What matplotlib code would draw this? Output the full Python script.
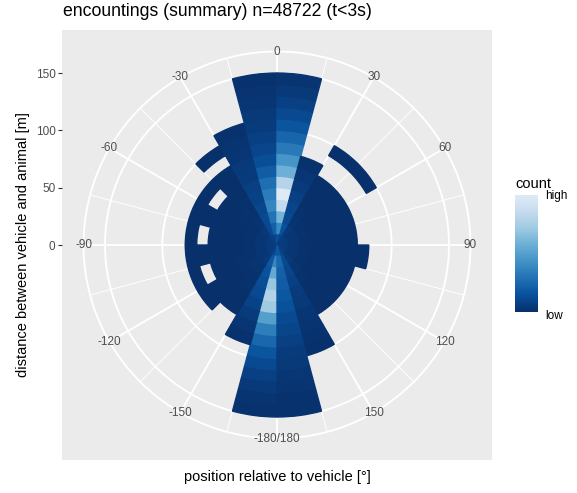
import numpy as np
import matplotlib
matplotlib.use("Agg")
import matplotlib.pyplot as plt
from matplotlib.colors import LinearSegmentedColormap, Normalize

plt.rcParams['font.family'] = ['Liberation Sans', 'DejaVu Sans']

# ---- data -------------------------------------------------------------
# angular bins (degrees, 0 = straight ahead, clockwise positive)
theta_edges = np.arange(-180, 181, 15)
# distance bins (m)
r_edges = np.arange(0, 151, 10)
nan = np.nan
# relative encounter counts per angular bin (rows) and distance bin (cols)
counts = [
    [20, 38, 55, 70, 78, 72, 50, 35, 25, 17, 12, 8, 5, 3, 2],          # -180..-165
    [12, 18, 16, 14, 12, 9, 6, 4, 2, nan, nan, nan, nan, nan, nan],    # -165..-150
    [7, 5, 3, 2, 2, 1, 1, nan, nan, nan, nan, nan, nan, nan, nan],     # -150..-135
    [6, 4, 3, 2, 1, 1, 1, 1, nan, nan, nan, nan, nan, nan, nan],       # -135..-120
    [6, 4, 2, 2, 1, 1, nan, 1, nan, nan, nan, nan, nan, nan, nan],     # -120..-105
    [6, 4, 2, 1, 1, 1, 1, 1, nan, nan, nan, nan, nan, nan, nan],       # -105..-90
    [6, 4, 2, 1, 1, 1, nan, 1, nan, nan, nan, nan, nan, nan, nan],     # -90..-75
    [6, 4, 2, 1, 1, 1, 1, 1, nan, nan, nan, nan, nan, nan, nan],       # -75..-60
    [6, 4, 2, 2, 1, 1, nan, 1, nan, nan, nan, nan, nan, nan, nan],     # -60..-45
    [7, 5, 3, 2, 2, 1, 1, 1, nan, 1, nan, nan, nan, nan, nan],         # -45..-30
    [8, 12, 12, 10, 9, 8, 6, 5, 4, 3, 2, nan, nan, nan, nan],          # -30..-15
    [10, 22, 30, 38, 34, 28, 20, 14, 10, 8, 6, 5, 4, 3, 2],            # -15..0
    [15, 40, 60, 85, 100, 80, 58, 45, 33, 24, 17, 12, 8, 5, 3],        # 0..15
    [10, 15, 12, 10, 8, 6, 4, 2, nan, nan, nan, nan, nan, nan, nan],   # 15..30
    [7, 5, 3, 2, 1, 1, 1, nan, nan, 1, nan, nan, nan, nan, nan],       # 30..45
    [6, 4, 2, 1, 1, 1, 1, nan, nan, 1, nan, nan, nan, nan, nan],       # 45..60
    [6, 4, 2, 1, 1, 1, 1, nan, nan, nan, nan, nan, nan, nan, nan],     # 60..75
    [6, 4, 2, 1, 1, 1, 1, nan, nan, nan, nan, nan, nan, nan, nan],     # 75..90
    [6, 4, 2, 1, 1, 1, 1, 1, nan, nan, nan, nan, nan, nan, nan],       # 90..105
    [6, 4, 2, 1, 1, 1, 1, nan, nan, nan, nan, nan, nan, nan, nan],     # 105..120
    [6, 4, 2, 1, 1, 1, 1, nan, nan, nan, nan, nan, nan, nan, nan],     # 120..135
    [7, 5, 3, 2, 1, 1, 1, nan, nan, nan, nan, nan, nan, nan, nan],     # 135..150
    [10, 12, 10, 8, 6, 5, 4, 3, 2, 1, nan, nan, nan, nan, nan],        # 150..165
    [18, 25, 22, 20, 18, 15, 12, 10, 8, 6, 5, 4, 3, 2, 2],             # 165..180
]
theta_breaks = [-150, -120, -90, -60, -30, 0, 30, 60, 90, 120, 150, 180]
theta_labels = ['-150', '-120', '-90', '-60', '-30', '0', '30', '60', '90',
                '120', '150', '-180/180']
r_breaks = [0, 50, 100, 150]

# ---- styling ----------------------------------------------------------
W, H = 577, 493
fig = plt.figure(figsize=(W / 100, H / 100), dpi=100)

cmap = LinearSegmentedColormap.from_list(
    'blues_rev', ['#08306B', '#08519C', '#2171B5', '#4292C6', '#6BAED6',
                  '#9ECAE1', '#C6DBEF', '#DEEBF7'])
C = np.array(counts, dtype=float)
norm = Normalize(vmin=np.nanmin(C), vmax=np.nanmax(C))

# panel geometry (pixels)
px0, py_top, side = 62, 30, 430
rect = [px0 / W, (H - py_top - side) / H, side / W, side / H]
r_max = r_edges[-1]
r_full = r_max * 0.5 / 0.4          # half panel width in data units
r_outer = r_max * 0.45 / 0.4        # outer grid circle

txt_col = '#4D4D4D'
grid_major = 1.36
grid_minor = 0.68

# background panel carrying the radial axis
ax_bg = fig.add_axes(rect)
ax_bg.set_facecolor('#EBEBEB')
ax_bg.set_xlim(-r_full, r_full)
ax_bg.set_ylim(-r_full, r_full)
ax_bg.set_xticks([])
ax_bg.set_yticks(r_breaks)
ax_bg.set_yticklabels([str(b) for b in r_breaks])
ax_bg.tick_params(axis='y', length=2.7, width=0.8, color='#333333',
                  labelcolor=txt_col, labelsize=8.45, pad=2)
for s in ax_bg.spines.values():
    s.set_visible(False)
ax_bg.set_ylabel('distance between vehicle and animal [m]', fontsize=10.56,
                 labelpad=4)
ax_bg.set_xlabel('position relative to vehicle [°]', fontsize=10.56,
                 labelpad=7)

# polar layer
ax = fig.add_axes(rect, projection='polar')
ax.set_theta_zero_location('N')
ax.set_theta_direction(-1)
ax.set_ylim(0, r_full)
ax.set_axis_off()

# grid
circ = np.linspace(0, 2 * np.pi, 721)
for rb in r_breaks[1:] + [r_outer]:
    ax.plot(circ, np.full_like(circ, rb), color='white', lw=grid_major,
            zorder=1, solid_capstyle='butt')
for t in np.arange(-180, 180, 15):
    lw = grid_major if t % 30 == 0 else grid_minor
    ax.plot([np.deg2rad(t)] * 2, [0, r_outer], color='white', lw=lw, zorder=1)

# tiles
dth = np.deg2rad(15)
for i in range(len(theta_edges) - 1):
    tc = np.deg2rad((theta_edges[i] + theta_edges[i + 1]) / 2)
    for j in range(len(r_edges) - 1):
        v = C[i, j]
        if np.isnan(v):
            continue
        col = cmap(norm(v))
        ax.bar(tc, r_edges[j + 1] - r_edges[j], width=dth, bottom=r_edges[j],
               color=col, edgecolor=col, linewidth=1.0, align='center',
               zorder=2)

# angular labels
for tb, lab in zip(theta_breaks, theta_labels):
    ax.text(np.deg2rad(tb), r_outer, lab, ha='center', va='center',
            fontsize=8.45, color=txt_col, zorder=3)

# title
fig.text(63 / W, 1 - 12 / H, 'encountings (summary) n=48722 (t<3s)',
         fontsize=12.7, ha='left', va='center')

# legend
cb_x, cb_top, cb_w, cb_h = 515, 195, 23, 117
ax_cb = fig.add_axes([cb_x / W, (H - cb_top - cb_h) / H, cb_w / W, cb_h / H])
grad = np.linspace(0, 1, 300).reshape(-1, 1)
ax_cb.imshow(grad, aspect='auto', cmap=cmap, origin='lower',
             extent=[0, 1, 0, 1])
ax_cb.set_axis_off()
fig.text(cb_x / W, 1 - 184 / H, 'count', fontsize=10.56, ha='left',
         va='center')
fig.text(545 / W, 1 - 196 / H, 'high', fontsize=8.45, ha='left',
         va='center', color='black')
fig.text(545 / W, 1 - 316 / H, 'low', fontsize=8.45, ha='left',
         va='center', color='black')

fig.savefig('out.png', dpi=100)
